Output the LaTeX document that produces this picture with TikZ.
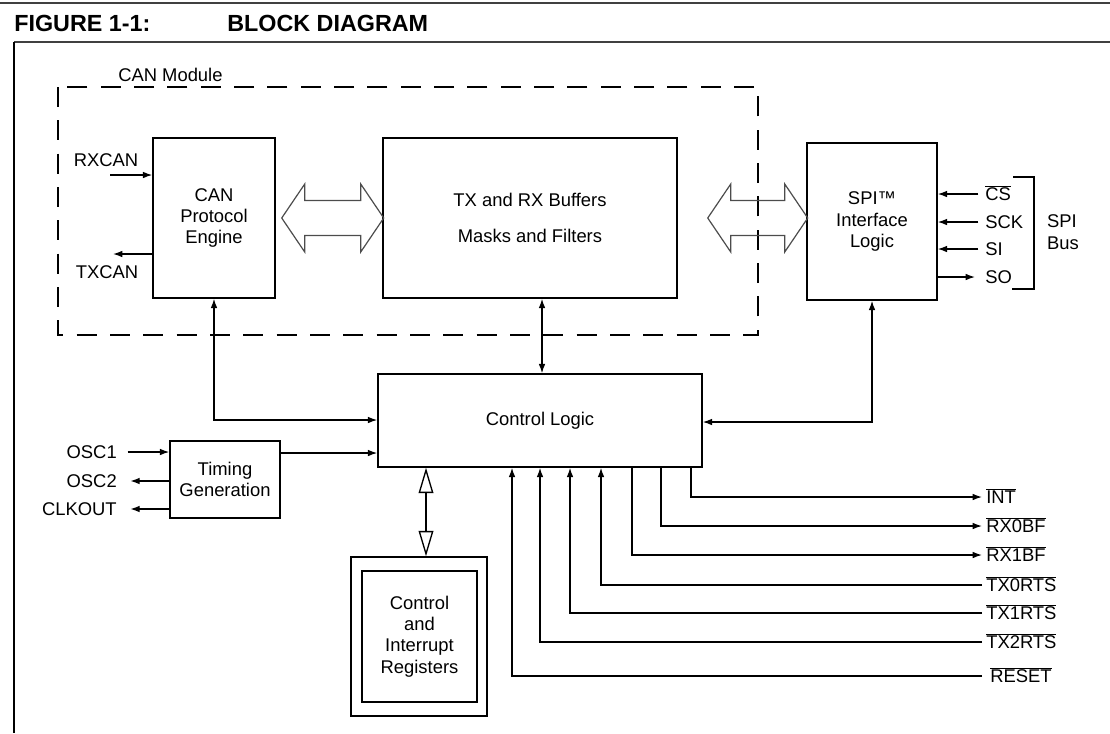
\documentclass[tikz,border=0pt]{standalone}
\usepackage{fontspec}
\setmainfont{Liberation Sans}
\usetikzlibrary{arrows.meta,calc}

\begin{document}
\begin{tikzpicture}[
  x=0.75pt, y=-0.75pt,
  every node/.style={font=\fontsize{13.8}{16}\selectfont, inner sep=0pt},
  blk/.style={draw, line width=1.1pt, align=center},
  sig/.style={inner sep=3pt, text height=9.9pt, text depth=0pt},
  arr/.style={line width=1pt, -{Latex[length=7pt,width=5pt]}},
  arrs/.style={line width=1pt, {Latex[length=7pt,width=5pt]}-{Latex[length=7pt,width=5pt]}},
  bus/.style={line width=0.9pt, black!70},
  hol/.style={line width=1pt, {Triangle[open,length=19pt,width=11pt]}-{Triangle[open,length=19pt,width=11pt]}},
  module/.style={line width=1pt, dash pattern=on 15pt off 10pt}
]
\useasboundingbox (0,0) rectangle (1110,733);

% page frame and title
\draw[line width=2.2pt, black!75] (0,3) -- (1110,3);
\draw[line width=1.5pt, black!75] (14,42) -- (1110,42);
\draw[line width=1.3pt] (14,42) -- (14,733);
\node[anchor=west, font=\fontsize{17.5}{20}\selectfont\bfseries] (fig) at (14,23) {FIGURE 1-1:};
\node[anchor=west, font=\fontsize{17.5}{20}\selectfont\bfseries] (title) at (227,23) {BLOCK DIAGRAM};

% CAN module
\draw[module] (58,87) rectangle (758,335);
\node[anchor=west] (canlbl) at (118,75) {CAN Module};
\node[blk, minimum width=91.5pt, minimum height=120pt] (can) at (214,218) {CAN\\Protocol\\Engine};
\node[blk, minimum width=220.5pt, minimum height=120pt] (buf) at (530,218) {TX and RX Buffers\\[11.5pt]Masks and Filters};
\node[blk, minimum width=97.5pt, minimum height=117.75pt] (spi) at (872,221.5) {SPI™\\Interface\\Logic};

% wide buses
\draw[bus] ($(can.east)+(6,0)$) -- ++(23,-34) -- ++(0,16.5) -- ++(56,0) -- ++(0,-16.5) -- ++(23,34)
  -- ++(-23,34) -- ++(0,-16.5) -- ++(-56,0) -- ++(0,16.5) -- cycle;
\draw[bus] ($(buf.east)+(30,0)$) -- ++(23,-34) -- ++(0,16.5) -- ++(54,0) -- ++(0,-16.5) -- ++(23,34)
  -- ++(-23,34) -- ++(0,-16.5) -- ++(-54,0) -- ++(0,16.5) -- cycle;

% CAN bus pins
\node (rxcan) at (106,160) {RXCAN};
\node (txcan) at (107,272) {TXCAN};
\coordinate (rxin) at (110,175);
\coordinate (txout) at (113,254);
\draw[arr] (rxin) -- (can.west |- rxin);
\draw[arr] (can.west |- txout) -- (txout);

% SPI pins
\node[sig, anchor=west] (cs) at (981,194) {$\overline{\mbox{CS}}$};
\node[sig, anchor=west] (sck) at (981,222) {SCK};
\node[sig, anchor=west] (si) at (981,249) {SI};
\node[sig, anchor=west] (so) at (981,277) {SO};
\draw[arr, shorten <=2pt] (cs.west) -- (spi.east |- cs.west);
\draw[arr, shorten <=2pt] (sck.west) -- (spi.east |- sck.west);
\draw[arr, shorten <=2pt] (si.west) -- (spi.east |- si.west);
\draw[arr, shorten >=4.5pt] (spi.east |- so.west) -- (so.west);
\draw[line width=1pt] (1013,177) -- (1034,177) -- (1034,289) -- (1012,289);
\node[align=left] (spibus) at (1063,232) {SPI\\Bus};

% control logic
\node[blk, minimum width=243pt, minimum height=69.75pt] (cl) at (540,420.5) {Control Logic};
\draw[arrs] (buf.south -| 542,0) -- (cl.north -| 542,0);
\draw[arrs] (can.south) |- (cl.west |- 0,420);
\draw[arrs] (spi.south) |- (cl.east |- 0,422);

% timing
\node[blk, minimum width=82.5pt, minimum height=57.75pt] (tg) at (225,479.5) {Timing\\Generation};
\draw[arr] (tg.east |- 0,453) -- (cl.west |- 0,453);
\node[sig, anchor=east] (osc1) at (121,452) {OSC1};
\node[sig, anchor=east] (osc2) at (121,481) {OSC2};
\node[sig, anchor=east] (clkout) at (121,509) {CLKOUT};
\draw[arr, shorten <=5pt] (osc1.east) -- (tg.west |- osc1.east);
\draw[arr, shorten >=7pt] (tg.west |- osc2.east) -- (osc2.east);
\draw[arr, shorten >=7pt] (tg.west |- clkout.east) -- (clkout.east);

% registers
\node[draw, line width=1.1pt, minimum width=102pt, minimum height=119.25pt] (regout) at (419,636.5) {};
\node[blk, minimum width=86.25pt, minimum height=98.25pt] (regin) at (419.5,636.5) {Control\\and\\Interrupt\\Registers};
\draw[hol] (cl.south -| 426,0) -- (regout.north -| 426,0);

% status and request pins
\node[sig, anchor=west] (int) at (982,497) {$\overline{\mbox{INT}}$};
\node[sig, anchor=west] (rx0) at (982,526) {$\overline{\mbox{RX0BF}}$};
\node[sig, anchor=west] (rx1) at (982,555) {$\overline{\mbox{RX1BF}}$};
\node[sig, anchor=west] (tx0) at (982,585) {$\overline{\mbox{TX0RTS}}$};
\node[sig, anchor=west] (tx1) at (982,613) {$\overline{\mbox{TX1RTS}}$};
\node[sig, anchor=west] (tx2) at (982,642) {$\overline{\mbox{TX2RTS}}$};
\node[sig, anchor=west] (rst) at (986,676) {$\overline{\mbox{RESET}}$};
\draw[arr] (cl.south -| 691,0) |- (int.west);
\draw[arr] (cl.south -| 661,0) |- (rx0.west);
\draw[arr] (cl.south -| 632,0) |- (rx1.west);
\draw[arr] (tx0.west) -| (cl.south -| 601,0);
\draw[arr] (tx1.west) -| (cl.south -| 570,0);
\draw[arr] (tx2.west) -| (cl.south -| 540,0);
\draw[arr, shorten <=3pt] (rst.west) -| (cl.south -| 512,0);
\end{tikzpicture}
\end{document}
